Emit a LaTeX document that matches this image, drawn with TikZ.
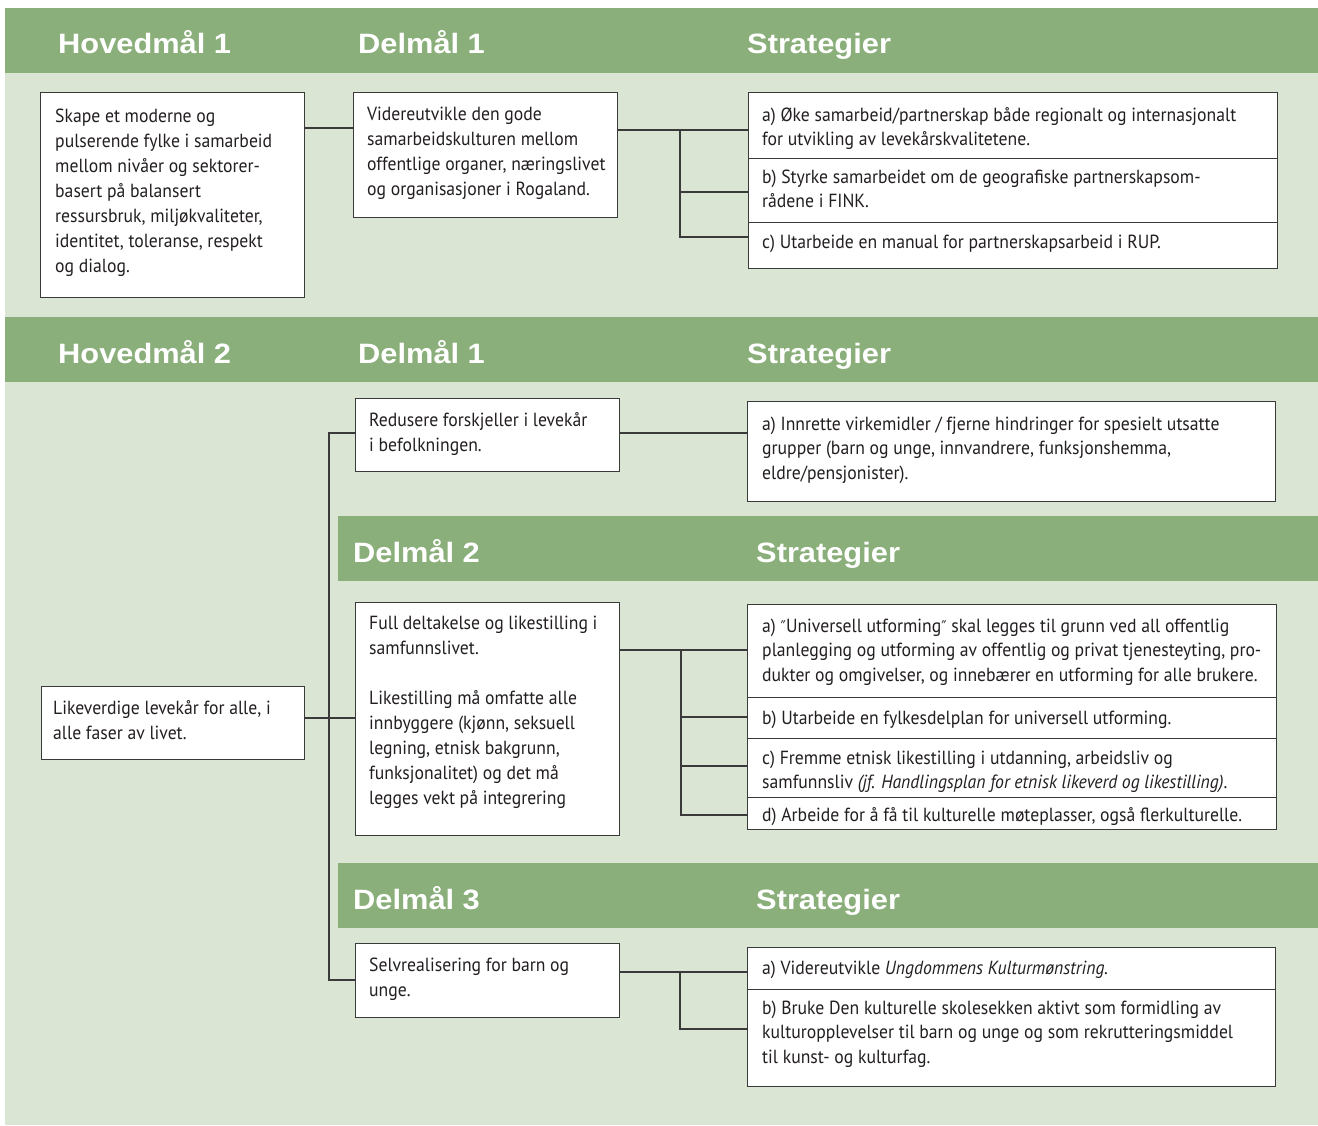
\documentclass[tikz,border=0pt]{standalone}
\usepackage{fontspec}
\setmainfont{PT Sans}[FakeStretch=0.93]
\newfontfamily\hfont{Liberation Sans}[FakeStretch=1.1]
\newfontfamily\djv{DejaVu Sans}[FakeStretch=0.9]
\usetikzlibrary{calc}
\definecolor{dg}{HTML}{8BAF7A}
\definecolor{lg}{HTML}{DAE5D3}
\definecolor{ln}{HTML}{3A3A3A}
\definecolor{tx}{HTML}{231F20}
\newcommand\fs{\rule{0pt}{20pt}}
\newcommand\dq{{\djv\fontsize{16}{16}\selectfont ″}}
\begin{document}
\begin{tikzpicture}[x=1pt,y=-1pt,
  box/.style={draw=ln, line width=1.2pt, fill=white, rectangle, inner sep=0pt, anchor=north west},
  txt/.style={anchor=north west, inner sep=0pt, align=left, text=tx, font=\fontsize{19}{25}\selectfont},
  stxt/.style={txt, font=\fontsize{19}{24.5}\selectfont},
  head/.style={anchor=base west, inner sep=0pt, text=white, font=\hfont\bfseries\fontsize{28}{32}\selectfont},
  conn/.style={draw=ln, line width=1.2pt},
  band/.style={fill=dg, draw=none}]
\useasboundingbox (0,0) rectangle (1318,1126);
\fill[white] (0,0) rectangle (1318,1126);
\fill[lg] (5,73) rectangle (1318,1125);
\fill[band] (5,8) rectangle (1318,73);
\fill[band] (5,317) rectangle (1318,382);
\fill[band] (338,516) rectangle (1318,581);
\fill[band] (338,863) rectangle (1318,928);
% headers
\node[head] (hh1) at (58,54) {Hovedmål 1};
\node[head] (hd1) at (358,54) {Delmål 1};
\node[head] (hs1) at (747,54) {Strategier};
\node[head] (hh2) at (58,363) {Hovedmål 2};
\node[head] (hd21) at (358,363) {Delmål 1};
\node[head] (hs21) at (747,363) {Strategier};
\node[head] (hd22) at (353,562) {Delmål 2};
\node[head] (hs22) at (756,562) {Strategier};
\node[head] (hd23) at (353,909) {Delmål 3};
\node[head] (hs23) at (756,909) {Strategier};
% section 1 boxes
\node[box, minimum width=264pt, minimum height=205pt] (h1) at (40,92) {};
\node[box, minimum width=264pt, minimum height=125pt] (d11) at (353,92) {};
\node[box, minimum width=529pt, minimum height=66pt] (s1a) at (748,92) {};
\node[box, minimum width=529pt, minimum height=64pt] (s1b) at (748,158) {};
\node[box, minimum width=529pt, minimum height=46pt] (s1c) at (748,222) {};
\node[txt] (h1t) at (55,102) {\fs Skape et moderne og\\pulserende fylke i samarbeid\\mellom nivåer og sektorer-\\basert på balansert\\ressursbruk, miljøkvaliteter,\\identitet, toleranse, respekt\\og dialog.};
\node[txt] (d11t) at (367,100) {\fs Videreutvikle den gode\\samarbeidskulturen mellom\\offentlige organer, næringslivet\\og organisasjoner i Rogaland.};
\node[stxt] (s1at) at (762,101) {\fs a) Øke samarbeid/partnerskap både regionalt og internasjonalt\\for utvikling av levekårskvalitetene.};
\node[stxt] (s1bt) at (762,163) {\fs b) Styrke samarbeidet om de geografiske partnerskapsom-\\rådene i FINK.};
\node[stxt] (s1ct) at (762,228) {\fs c) Utarbeide en manual for partnerskapsarbeid i RUP.};
% section 2 boxes
\node[box, minimum width=263pt, minimum height=73pt] (h2) at (41,686) {};
\node[txt] (h2t) at (53,694) {\fs Likeverdige levekår for alle, i\\alle faser av livet.};
\node[box, minimum width=264pt, minimum height=73pt] (d21) at (355,398) {};
\node[txt] (d21t) at (369,406) {\fs Redusere forskjeller i levekår\\i befolkningen.};
\node[box, minimum width=528pt, minimum height=100pt] (s21) at (747,401) {};
\node[stxt] (s21t) at (762,410) {\fs a) Innrette virkemidler / fjerne hindringer for spesielt utsatte\\grupper (barn og unge, innvandrere, funksjonshemma,\\eldre/pensjonister).};
\node[box, minimum width=264pt, minimum height=233pt] (d22) at (355,602) {};
\node[txt] (d22t) at (369,609) {\fs Full deltakelse og likestilling i\\samfunnslivet.\\[25pt]Likestilling må omfatte alle\\innbyggere (kjønn, seksuell\\legning, etnisk bakgrunn,\\funksjonalitet) og det må\\legges vekt på integrering};
\node[box, minimum width=529pt, minimum height=93pt] (s22a) at (747,604) {};
\node[box, minimum width=529pt, minimum height=41pt] (s22b) at (747,697) {};
\node[box, minimum width=529pt, minimum height=59pt] (s22c) at (747,738) {};
\node[box, minimum width=529pt, minimum height=32pt] (s22d) at (747,797) {};
\node[stxt] (s22at) at (762,612) {\fs a) \dq Universell utforming\dq\ skal legges til grunn ved all offentlig\\planlegging og utforming av offentlig og privat tjenesteyting, pro-\\dukter og omgivelser, og innebærer en utforming for alle brukere.};
\node[stxt] (s22bt) at (762,704) {\fs b) Utarbeide en fylkesdelplan for universell utforming.};
\node[stxt] (s22ct) at (762,744) {\fs c) Fremme etnisk likestilling i utdanning, arbeidsliv og\\samfunnsliv \textit{(jf. Handlingsplan for etnisk likeverd og likestilling)}.};
\node[stxt] (s22dt) at (762,801) {\fs d) Arbeide for å få til kulturelle møteplasser, også flerkulturelle.};
\node[box, minimum width=264pt, minimum height=74pt] (d23) at (355,943) {};
\node[txt] (d23t) at (369,951) {\fs Selvrealisering for barn og\\unge.};
\node[box, minimum width=528pt, minimum height=42pt] (s23a) at (747,947) {};
\node[box, minimum width=528pt, minimum height=97pt] (s23b) at (747,989) {};
\node[stxt] (s23at) at (762,954) {\fs a) Videreutvikle \textit{Ungdommens Kulturmønstring.}};
\node[stxt] (s23bt) at (762,994) {\fs b) Bruke Den kulturelle skolesekken aktivt som formidling av\\kulturopplevelser til barn og unge og som rekrutteringsmiddel\\til kunst- og kulturfag.};
% connectors section 1
\coordinate (y1) at (0,128);
\coordinate (j1) at (680,130);
\coordinate (j1b) at (680,192);
\coordinate (j1c) at (680,237);
\draw[conn] (h1.east |- y1) -- (d11.west |- y1);
\draw[conn] (d11.east |- j1) -- (s1a.west |- j1);
\draw[conn] (j1) -- (j1c) -- (s1c.west |- j1c);
\draw[conn] (j1b) -- (s1b.west |- j1b);
% connectors section 2
\coordinate (v1) at (329,433);
\coordinate (v2) at (329,718);
\coordinate (v3) at (329,980);
\draw[conn] (d21.west |- v1) -- (v1) -- (v3) -- (d23.west |- v3);
\draw[conn] (h2.east |- v2) -- (d22.west |- v2);
\draw[conn] (d21.east |- v1) -- (s21.west |- v1);
\coordinate (j2) at (681,650);
\coordinate (j2b) at (681,717);
\coordinate (j2c) at (681,766);
\coordinate (j2d) at (681,815);
\draw[conn] (d22.east |- j2) -- (s22a.west |- j2);
\draw[conn] (j2) -- (j2d) -- (s22d.west |- j2d);
\draw[conn] (j2b) -- (s22b.west |- j2b);
\draw[conn] (j2c) -- (s22c.west |- j2c);
\coordinate (j3) at (680,972);
\coordinate (j3b) at (680,1029);
\draw[conn] (d23.east |- j3) -- (s23a.west |- j3);
\draw[conn] (j3) -- (j3b) -- (s23b.west |- j3b);
\end{tikzpicture}
\end{document}
